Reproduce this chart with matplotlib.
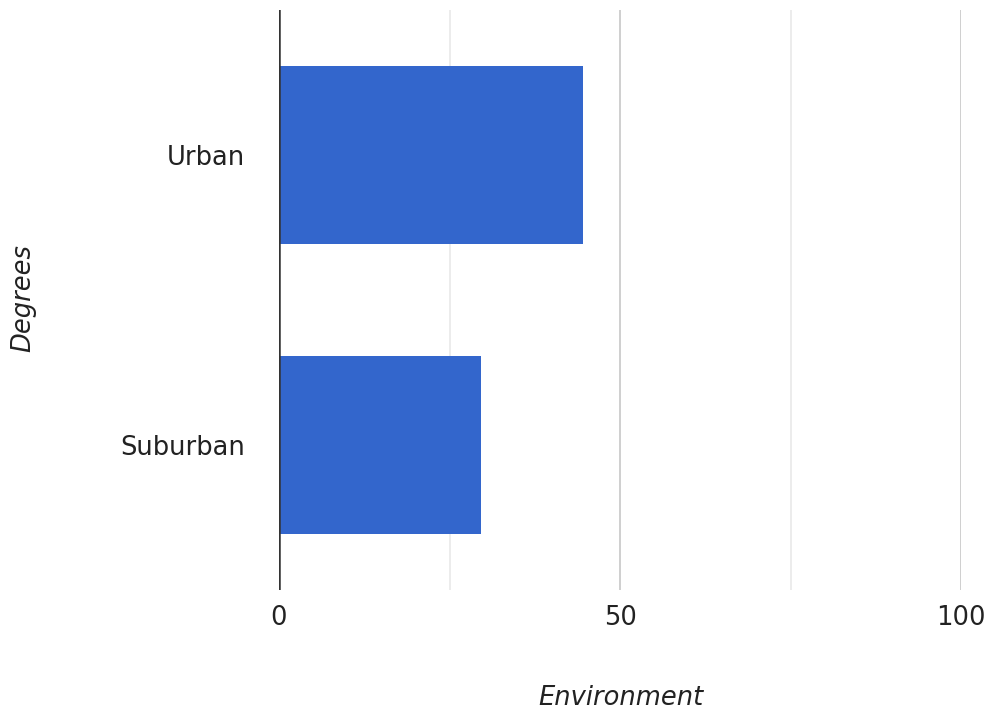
import matplotlib
matplotlib.use("Agg")
import matplotlib.pyplot as plt

categories = ["Urban", "Suburban"]
values = [44.6, 29.6]
x_ticks = [0, 50, 100]
minor_ticks = [25, 75]

plt.rcParams['font.family'] = ['DejaVu Sans']

W, H = 988, 713
fig = plt.figure(figsize=(W / 100, H / 100), dpi=100)
ax = fig.add_axes([279 / W, 1 - 590 / H, (961 - 279) / W, 580 / H])

ypos = list(range(len(categories)))
ax.barh(ypos, values, height=0.614, color="#3366CC", zorder=3)

ax.set_xlim(0, 100)
ax.set_ylim(len(categories) - 0.5, -0.5)

# gridlines
for t in x_ticks[1:]:
    ax.axvline(t, color="#cccccc", lw=1.3, zorder=1)
for t in minor_ticks:
    ax.axvline(t, color="#ebebeb", lw=1.3, zorder=1)
ax.axvline(0, color="#333333", lw=1.8, zorder=4)

for s in ax.spines.values():
    s.set_visible(False)

fs = 18.5
ax.set_xticks(x_ticks)
ax.set_xticklabels([str(t) for t in x_ticks])
ax.set_yticks(ypos)
ax.set_yticklabels(categories)
ax.tick_params(axis="x", length=0, pad=11, labelsize=fs, labelcolor="#222222")
ax.tick_params(axis="y", length=0, pad=24.5, labelsize=fs, labelcolor="#222222")

ax.set_xlabel("Environment", fontsize=fs, style="italic", color="#222222", va="center")
ax.xaxis.set_label_coords(621 / W, 1 - 698 / H, transform=fig.transFigure)
ax.set_ylabel("Degrees", fontsize=fs, style="italic", color="#222222", va="center")
ax.yaxis.set_label_coords(23 / W, 1 - 298 / H, transform=fig.transFigure)

fig.savefig("out.png", dpi=100, facecolor="white")
